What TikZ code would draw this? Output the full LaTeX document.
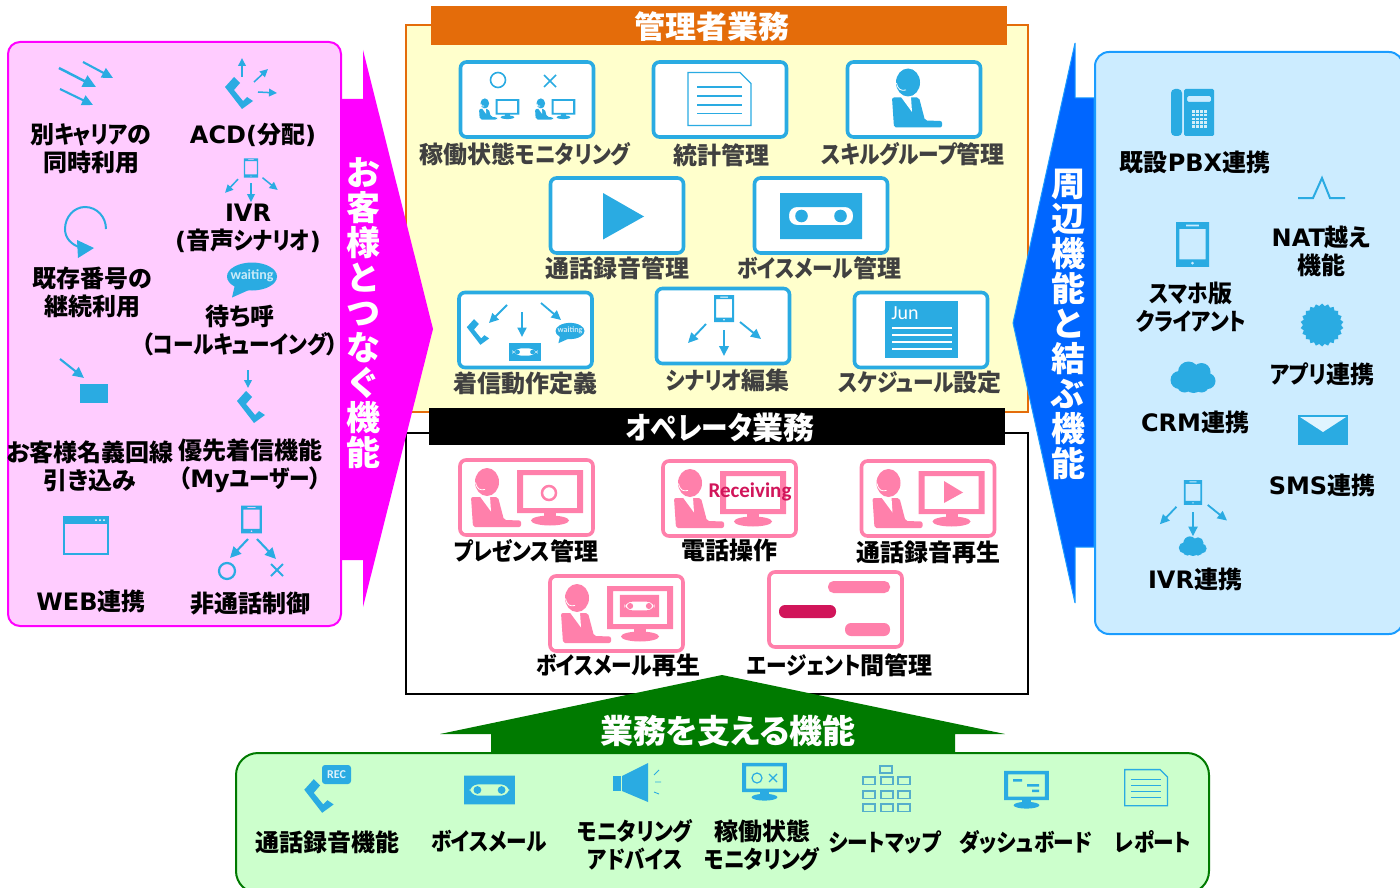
\documentclass[tikz,border=0pt]{standalone}
\usepackage{fontspec}
\usetikzlibrary{arrows.meta,shapes.geometric}
\newfontfamily\jp{Noto Sans CJK JP}[RawFeature=+palt]
\newfontfamily\jpk{Noto Sans CJK JP}[RawFeature=+palt,FakeStretch=0.86]
\newfontfamily\ltn{DejaVu Sans}
\newfontfamily\crb{Carlito}
\newcommand{\lat}[1]{{\ltn #1}}
\newcommand{\kn}[1]{{\jpk #1}}
\definecolor{iconblue}{HTML}{2AABE2}
\definecolor{iconpink}{HTML}{FF80AB}
\colorlet{iconcol}{iconblue}
\definecolor{crimson}{HTML}{D1155A}
\definecolor{magentafill}{HTML}{FF00FF}
\definecolor{pinkpanel}{HTML}{FFCCFF}
\definecolor{bluearrow}{HTML}{0066FF}
\definecolor{bluepanel}{HTML}{CCECFF}
\definecolor{blueline}{HTML}{1A9CFF}
\definecolor{orangeline}{HTML}{E46C0A}
\definecolor{yellowpanel}{HTML}{FFFFCC}
\definecolor{greenarrow}{HTML}{007A00}
\definecolor{greenpanel}{HTML}{CCFFCC}
\definecolor{seatline}{HTML}{55AECB}
\newcommand{\agentfig}{
  \fill (0,-15.5) ellipse [x radius=12,y radius=14];
  \fill[rounded corners=2pt] (-16,-0.5) -- (-14,29.5) -- (34,29.5) -- (34,23) -- (17,22.5) -- (11,-0.5) -- cycle;
  \fill[white] (-7,-1) -- (3,-1) -- (4,14) -- cycle;
  \draw[white,line width=.8pt] (-11.5,-15) .. controls (-10,-8) and (-7,-7) .. (-2,-8);
}
\newcommand{\monfig}{
  \fill[even odd rule] (-33,-21.5) rectangle (33,21.5) (-27,-16.5) rectangle (27,16.5);
  \fill (-6,21) rectangle (6,27);
  \fill (0,29) ellipse [x radius=19,y radius=5];
}
\newcommand{\mobfig}{
  \fill[even odd rule] (-10,-13.5) rectangle (10,13.5) (-8,-9.5) rectangle (8,9)
    (-4,-12) rectangle (4,-11) (0,11.3) circle [radius=1.1];
}
\tikzset{
  lbl/.style={font=\jp\bfseries\fontsize{24}{28}\selectfont,align=center,inner sep=0pt},
  dark/.style={lbl,text=black!75},
  hdr/.style={font=\jp\bfseries\fontsize{31}{34}\selectfont,text=white,inner sep=0pt},
  vtxt/.style={font=\jp\bfseries\fontsize{34}{35}\selectfont,text=white,align=center,inner sep=0pt},
  card/.style={draw=iconblue,fill=white,line width=3.6pt,rounded corners=6pt,minimum width=133pt,minimum height=75pt,inner sep=0pt},
  pcard/.style={card,draw=iconpink},
  ar/.style={color=iconblue,-{Triangle[length=10pt,width=9.5pt,scale=#1]},line width=#1*1.9pt},
  ar/.default=1,
  every pic/.style={color=iconcol},
  pics/handset/.style={code={
    \fill (-14,-6) -- (-5,-16) -- (1,-10) -- (-5,-3) -- (4,8) -- (8,4) -- (14,8) -- (3,16) -- cycle;
  }},
  pics/agent/.style={code={\agentfig}},
  pics/monitor/.style={code={\monfig}},
  pics/agentmon/.style={code={
    \begin{scope}[shift={(-39.5,0)}]\agentfig\end{scope}
    \begin{scope}[shift={(23.5,-6)}]\monfig\end{scope}
  }},
  pics/cassette/.style={code={
    \fill[even odd rule] (-41,-23) rectangle (41,23) [rounded corners=8pt] (-32,-9) rectangle (32,9);
    \fill (-19.5,0) circle [radius=6.3];
    \fill (19.5,0) circle [radius=6.3];
  }},
  pics/mobile/.style={code={\mobfig}},
  pics/tree/.style={code={
    \mobfig
    \draw[ar=#1] (-18,15.5) -- (-36,34.5);
    \draw[ar=#1] (0,21.5) -- (0,47.5);
    \draw[ar=#1] (16,13.5) -- (37,30.5);
  }},
  pics/docsheet/.style={code={
    \draw[line width=1.3pt] (-32,-27) -- (20,-27) -- (31,-16) -- (31,26) -- (-32,26) -- cycle;
    \foreach \ly in {-12.5,-3.5,5.5,14} \draw[line width=1.3pt] (-23,\ly) -- (22,\ly);
  }},
  pics/cloudy/.style={code={
    \fill (-14,3) circle [radius=9];
    \fill (-5,-5) circle [radius=10.5];
    \fill (8,-5) circle [radius=9];
    \fill (14,4) circle [radius=8];
    \fill (0,6) circle [radius=10];
    \fill (-9,8) circle [radius=7.5];
    \fill (8,8) circle [radius=7.5];
  }},
  pics/bubble/.style={code={
    \fill (0,0) ellipse [x radius=25,y radius=14];
    \fill (-17,8) -- (-20,21) -- (-2,13) -- cycle;
    \node[transform shape,text=white!75!iconblue,font=\crb\bfseries\fontsize{14}{14}\selectfont,inner sep=0pt] (-word) at (0,-1) {waiting};
  }}
}
\begin{document}
\begin{tikzpicture}[x=1pt,y=-1pt]
  \useasboundingbox (0,0) rectangle (1400,888);

  % panels
  \fill[yellowpanel,draw=orangeline,line width=2pt] (406,25) rectangle (1028,412);
  \fill[white,draw=black,line width=2pt] (406,433) rectangle (1028,694);
  \fill[pinkpanel,draw=magentafill,line width=2pt,rounded corners=12pt] (8,42) rectangle (341,626);
  \fill[bluepanel,draw=blueline,line width=2pt,rounded corners=14pt] (1095,52) rectangle (1403,634);
  \fill[greenpanel,draw=greenarrow,line width=2pt,rounded corners=22pt] (236,753) rectangle (1209,893);

  % big arrows
  \fill[magentafill] (341,99) -- (363,99) -- (363,50) -- (433,329) -- (363,607) -- (363,560) -- (341,560) -- cycle;
  \fill[bluearrow,draw=blueline,line width=1pt,line join=bevel] (1094,98) -- (1075,98) -- (1075,43) -- (1013,323) -- (1075,603) -- (1075,547) -- (1094,547) -- cycle;
  \fill[greenarrow] (491,752) -- (491,734) -- (440,734) -- (722,675) -- (1005,734) -- (955,734) -- (955,752) -- cycle;

  % headers
  \node[fill=orangeline,minimum width=576pt,minimum height=39pt,inner sep=0pt] (admbar) at (719,25.5) {};
  \node[hdr] (admtxt) at (712,27) {管理者業務};
  \node[fill=black,minimum width=576pt,minimum height=37pt,inner sep=0pt] (opbar) at (717,426.5) {};
  \node[hdr] (optxt) at (720,428) {\kn{オペレータ}業務};
  \node[hdr,font=\jp\bfseries\fontsize{33}{34}\selectfont] (suptxt) at (728,731) {業務を支える機能};
  \node[vtxt] (lvert) at (363,313) {お\\客\\様\\と\\つ\\な\\ぐ\\機\\能};
  \node[vtxt] (rvert) at (1068,324) {周\\辺\\機\\能\\と\\結\\ぶ\\機\\能};

  % left panel
  \draw[ar=1.3] (59,68) -- (96,87);
  \draw[ar=1.1] (83,62) -- (113,78);
  \draw[ar=1.1] (60,89) -- (93,105);
  \node[lbl] (lcarrier) at (91,149) {別\kn{キャリア}の\\同時利用};
  \pic at (239,93) {handset};
  \draw[ar=.8] (242,77) -- (242,58);
  \draw[ar=.8] (254,82) -- (268,69);
  \draw[ar=.8] (258,92) -- (277,93);
  \node[lbl] (lacd) at (253,135) {\lat{ACD(}分配\lat{)}};
  \pic[scale=.72] at (251,168) {tree=.8};
  \node[lbl] (livr) at (248,228) {\lat{IVR}\\\lat{(}音声\kn{シナリオ}\lat{)}};
  \draw[iconblue,line width=2pt] (106,229) .. controls (106,217) and (97,207) .. (85,207) .. controls (74,207) and (65,217) .. (65,229) .. controls (65,238) and (71,245) .. (82,248);
  \fill[iconblue] (77,240) -- (94,248) -- (78,258) -- cycle;
  \node[lbl] (lnum) at (92,292) {既存番号の\\継続利用};
  \pic at (252,276.5) {bubble};
  \node[lbl] (lwait) at (240,330) {待ち呼\\（\kn{コールキューイング}）};
  \draw[ar=1.1] (60,359) -- (84,378);
  \fill[iconblue] (80,384) rectangle (108,403);
  \node[lbl] (lline) at (90,466) {お客様名義回線\\引き込み};
  \draw[ar=.8] (248,370) -- (248,388);
  \pic at (251,407) {handset};
  \node[lbl] (lprio) at (250,466) {優先着信機能\\（\lat{My}\kn{ユーザー}）};
  \draw[iconblue,line width=1.4pt] (64,517) rectangle (108,554);
  \fill[iconblue] (63,516) rectangle (108,524);
  \foreach \dx in {96,100,104} \fill[white] (\dx,520) circle [radius=1];
  \node[lbl] (lweb) at (91,601) {\lat{WEB}連携};
  \pic[scale=1.03] at (251.5,519.5) {mobile};
  \draw[ar=1.1] (248,539) -- (230,558);
  \draw[ar=1.1] (257,539) -- (276,559);
  \draw[iconblue,line width=2.2pt] (227,571) circle [radius=8];
  \draw[iconblue,line width=2pt] (271,564) -- (283,576) (283,564) -- (271,576);
  \node[lbl] (lnon) at (250,604) {非通話制御};

  % admin cards
  \node[card] (cmon) at (527,99.5) {};
  \draw[iconblue,line width=1.6pt] (498,80) circle [radius=7.5];
  \draw[iconblue,line width=1.6pt] (544,75) -- (556,87) (556,75) -- (544,87);
  \pic[scale=.36] at (499,109) {agentmon};
  \pic[scale=.36] at (555,109) {agentmon};
  \node[dark] (tmon) at (525,154) {稼働状態\kn{モニタリング}};
  \node[card] (cstat) at (720,99.5) {};
  \pic at (720,99.5) {docsheet};
  \node[dark] (tstat) at (721,155) {統計管理};
  \node[card] (cskill) at (914,99.5) {};
  \pic at (908,98) {agent};
  \node[dark] (tskill) at (913,154) {\kn{スキルグループ}管理};
  \node[card] (crec) at (617,215.5) {};
  \fill[iconblue] (603,193) -- (644,216.5) -- (603,239.5) -- cycle;
  \node[dark] (trec) at (617,268) {通話録音管理};
  \node[card] (cvm) at (821,215.5) {};
  \pic at (821,216) {cassette};
  \node[dark] (tvm) at (819,268) {\kn{ボイスメール}管理};
  \node[card] (cin) at (525.5,330) {};
  \pic[scale=.8] at (478,332) {handset};
  \draw[ar=.95] (507,305) -- (489,323);
  \draw[ar=.95] (522,312) -- (522,337);
  \draw[ar=.95] (541,303) -- (561,320);
  \pic[scale=.39] at (525,352) {cassette};
  \pic[scale=.58] at (570,331) {bubble};
  \node[dark] (tin) at (525,383) {着信動作定義};
  \node[card] (cscn) at (723,326) {};
  \pic at (724,308.5) {tree=1};
  \node[dark] (tscn) at (728,380) {\kn{シナリオ}編集};
  \node[card] (csched) at (921,330) {};
  \fill[iconblue] (885,301) rectangle (958,358);
  \node[text=white,font=\crb\fontsize{20}{20}\selectfont,inner sep=0pt] (jun) at (905,313) {Jun};
  \foreach \ly in {328,335,342,349} \draw[white,line width=1.2pt] (892,\ly) -- (952,\ly);
  \node[dark] (tsched) at (920,382) {\kn{スケジュール}設定};

  % operator cards
  \begin{scope}
  \colorlet{iconcol}{iconpink}
  \node[pcard] (ppres) at (526.5,497.5) {};
  \pic at (526.5,497.5) {agentmon};
  \draw[iconpink,line width=2.5pt] (549,493) circle [radius=7];
  \node[lbl] (tpres) at (526,551) {\kn{プレゼンス}管理};
  \node[pcard] (pcall) at (729.5,498.5) {};
  \pic at (729.5,498.5) {agentmon};
  \node[text=crimson,font=\crb\bfseries\fontsize{21}{21}\selectfont,inner sep=0pt] (recv) at (750,492) {Receiving};
  \node[lbl] (tcall) at (729,550) {電話操作};
  \node[pcard] (pplay) at (928,498.5) {};
  \pic at (928,498.5) {agentmon};
  \fill[iconpink] (944,481) -- (963,492.5) -- (944,503) -- cycle;
  \node[lbl] (tplay) at (928,552) {通話録音再生};
  \node[pcard] (pvm) at (616.5,613.5) {};
  \pic at (616.5,613.5) {agentmon};
  \pic[scale=.48] at (639.5,606) {cassette};
  \node[lbl] (tpvm) at (618,665) {\kn{ボイスメール}再生};
  \node[pcard] (pagt) at (835.5,609.5) {};
  \fill[iconpink,rounded corners=5.5pt] (828,581) rectangle (890,593);
  \fill[crimson,rounded corners=6pt] (779,605) rectangle (836,618);
  \fill[iconpink,rounded corners=6pt] (845,623) rectangle (890,636);
  \node[lbl] (tagt) at (840,665) {\kn{エージェント}間管理};
  \end{scope}

  % right panel
  \fill[iconblue,rounded corners=4pt] (1171,89) rectangle (1182,136);
  \fill[iconblue,rounded corners=1.5pt,even odd rule] (1184,89) rectangle (1214,136) (1187,96) rectangle (1211,102);
  \foreach \kx in {0,1,2,3} \foreach \ky in {0,1,2,3,4}
    \fill[white!80!iconblue] (1192+\kx*4,110+\ky*3.8) rectangle ++(3,2.6);
  \node[lbl] (rpbx) at (1195,162) {既設\lat{PBX}連携};
  \draw[iconblue,line width=2pt] (1298,198) -- (1313,198) -- (1322,178) -- (1330,198) -- (1345,198);
  \node[lbl] (rnat) at (1321,251) {\lat{NAT}越え\\機能};
  \pic[scale=1.65] at (1192.5,244.5) {mobile};
  \node[lbl] (rsmart) at (1191,307) {\kn{スマホ}版\\\kn{クライアント}};
  \node[star,star points=22,star point ratio=1.13,fill=iconblue,minimum size=43pt,inner sep=0pt] (rseal) at (1322,325) {};
  \node[lbl] (rapp) at (1322,374) {\kn{アプリ}連携};
  \pic at (1193.5,377) {cloudy};
  \node[lbl] (rcrm) at (1195,422) {\lat{CRM}連携};
  \fill[iconblue] (1298,415) rectangle (1348,445);
  \fill[white!40!bluepanel] (1300,417) -- (1346,417) -- (1323,432) -- cycle;
  \node[lbl] (rsms) at (1322,485) {\lat{SMS}連携};
  \pic[scale=.92] at (1193,492.5) {tree=.95};
  \pic[scale=.62] at (1193,546) {cloudy};
  \node[lbl] (rivr) at (1195,579) {\lat{IVR}連携};

  % bottom panel
  \pic[scale=1.05] at (319,796) {handset};
  \node[fill=iconblue,rounded corners=3pt,minimum width=29pt,minimum height=19pt,inner sep=0pt,text=white!85!iconblue,font=\crb\bfseries\fontsize{12}{12}\selectfont] (recbadge) at (336.5,774.5) {REC};
  \node[lbl] (brec) at (327,842) {通話録音機能};
  \pic[scale=.62] at (489.5,790) {cassette};
  \node[lbl] (bvm) at (489,841) {\kn{ボイスメール}};
  \fill[iconblue] (613,776) rectangle (621,791);
  \fill[iconblue] (622,776) -- (648,763) -- (648,802) -- (622,791) -- cycle;
  \draw[iconblue,line width=.9pt] (654,775) -- (659,770) (655,782) -- (661,782) (654,792) -- (659,794);
  \node[lbl] (badv) at (635,845) {\kn{モニタリング}\\\kn{アドバイス}};
  \pic[scale=.68] at (764.5,777.5) {monitor};
  \draw[iconblue,line width=1.2pt] (757,778) circle [radius=5];
  \draw[iconblue,line width=1.2pt] (769,774) -- (777,782) (777,774) -- (769,782);
  \node[lbl] (bstate) at (762,845) {稼働状態\\\kn{モニタリング}};
  \draw[seatline,line width=1.2pt] (880,766) rectangle (892,773);
  \foreach \sx in {863,881,898} \foreach \sy in {777,791,804}
    \draw[seatline,line width=1.2pt] (\sx,\sy) rectangle ++(12,7.5);
  \node[lbl] (bseat) at (885,842) {\kn{シートマップ}};
  \pic[scale=.68] at (1026.5,785.5) {monitor};
  \fill[iconblue] (1013,779) rectangle (1022,781.5) (1027,784) rectangle (1039,786.5) (1032,789.5) rectangle (1039,792);
  \node[lbl] (bdash) at (1026,842) {\kn{ダッシュボード}};
  \pic[scale=.68] at (1146.5,788) {docsheet};
  \node[lbl] (brep) at (1153,842) {\kn{レポート}};
\end{tikzpicture}
\end{document}
